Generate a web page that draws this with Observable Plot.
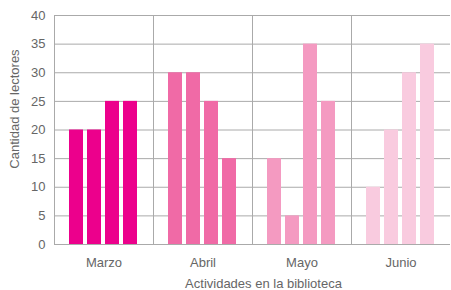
<!DOCTYPE html>
<html><head><meta charset="utf-8">
<script src="https://cdn.jsdelivr.net/npm/d3@7"></script>
<script src="https://cdn.jsdelivr.net/npm/@observablehq/plot@0.6"></script>
<style>
body{margin:0;background:#fff;overflow:hidden}
</style>
</head><body><div id="chart"></div>
<script>
const months = ["Marzo", "Abril", "Mayo", "Junio"];
const activities = ["A1", "A2", "A3", "A4"];
const marzo = [20, 20, 25, 25];
const abril = [30, 30, 25, 15];
const mayo = [15, 5, 35, 25];
const junio = [10, 20, 30, 35];
const monthColors = ["#EC008C", "#F06AA6", "#F49AC1", "#F9CBDF"];
const yTicks = [0, 5, 10, 15, 20, 25, 30, 35, 40];
const yLabel = "Cantidad de lectores";
const xLabel = "Actividades en la biblioteca";

const series = [marzo, abril, mayo, junio];
const data = months.flatMap((m, i) => series[i].map((v, j) => ({month: m, act: activities[j], value: v})));

const chart = Plot.plot({
  width: 451,
  height: 290,
  marginTop: 15,
  marginBottom: 46,
  marginLeft: 52,
  marginRight: 0,
  style: {fontFamily: "'Liberation Sans', Arial, sans-serif", fontSize: "13px", color: "#666", background: "#fff"},
  facet: {data, x: "month", marginBottom: 46},
  fx: {domain: months, padding: 0, tickSize: 0, tickPadding: 13, label: xLabel, labelAnchor: "center", labelOffset: 43, labelArrow: "none"},
  x: {domain: activities, axis: null, paddingInner: 0.2, paddingOuter: 0.8},
  y: {domain: [0, 40], ticks: yTicks, tickSize: 0, tickPadding: 9, label: yLabel, labelAnchor: "center", labelOffset: 40, labelArrow: "none"},
  color: {domain: months, range: monthColors},
  marks: [
    Plot.ruleY(yTicks, {stroke: "#aaa", strokeWidth: 1}),
    Plot.frame({stroke: "#aaa", anchor: "left"}),
    Plot.barY(data, {x: "act", y: "value", fill: "month"})
  ]
});
// nudge axis labels to match reference placement
const yl = chart.querySelector('[aria-label="y-axis label"]');
if (yl) yl.setAttribute("transform", `translate(-5,-21) ${yl.getAttribute("transform") || ""}`);
const xl = chart.querySelector('[aria-label="fx-axis label"]');
if (xl) xl.setAttribute("transform", `translate(11,0) ${xl.getAttribute("transform") || ""}`);
chart.querySelectorAll("text").forEach(t => {
  if (t.textContent.includes("↑") || t.textContent.includes("→")) t.textContent = t.textContent.replace(/\s*[↑→]\s*/g, "");
});
document.getElementById("chart").appendChild(chart);
</script>
</body></html>
